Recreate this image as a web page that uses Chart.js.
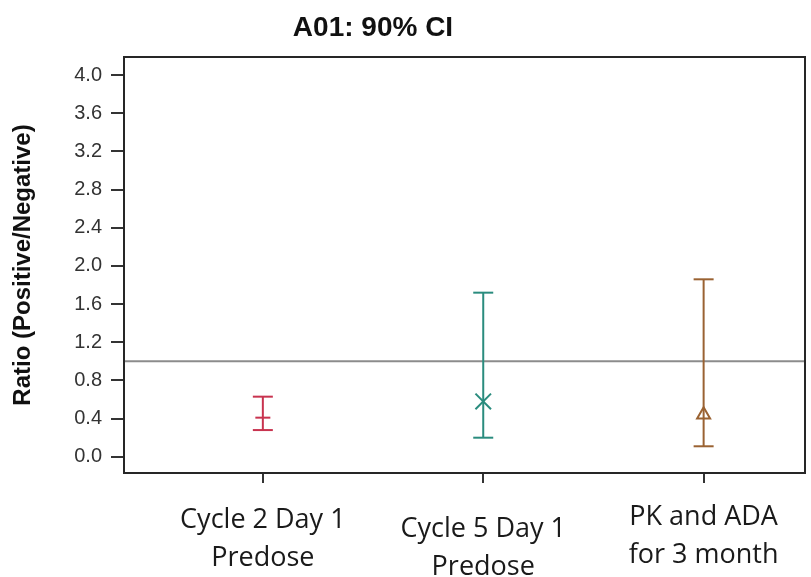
<!DOCTYPE html>
<html>
<head>
<meta charset="utf-8">
<script src="https://cdn.jsdelivr.net/npm/chart.js@4.4.1/dist/chart.umd.min.js"></script>
<style>
html,body{margin:0;padding:0;background:#fff;}
#wrap{width:811px;height:577px;position:relative;}
</style>
</head>
<body>
<div id="wrap"><canvas id="c" width="811" height="577"></canvas></div>
<script>
// ---- data ----
const chartTitle = "A01: 90% CI";
const yAxisTitle = "Ratio (Positive/Negative)";
const categories = [["Cycle 2 Day 1", "Predose"], ["Cycle 5 Day 1", "Predose"], ["PK and ADA", "for 3 month"]];
const categoryPos = [1, 2, 3];
const estimate = [0.41, 0.58, 0.44];
const lower = [0.28, 0.20, 0.11];
const upper = [0.63, 1.72, 1.86];
const yTicks = [0.0, 0.4, 0.8, 1.2, 1.6, 2.0, 2.4, 2.8, 3.2, 3.6, 4.0];
const refValue = 1.0;

const colors = ["#c8334f", "#2a8c7e", "#9a6232"];
const markerStyles = ["line", "crossRot", "triangle"];
const markerRadius = [7.5, 11, 7.5];

const datasets = [];
categoryPos.forEach((x, i) => {
  datasets.push({
    data: [{x: x, y: lower[i]}, {x: x, y: upper[i]}],
    showLine: true,
    borderColor: colors[i],
    borderWidth: 2,
    pointStyle: "line",
    pointRadius: 10,
    pointBorderWidth: 2,
    pointBorderColor: colors[i],
    fill: false
  });
});
datasets.push({
  data: categoryPos.map((x, i) => ({x: x, y: estimate[i]})),
  showLine: false,
  pointStyle: markerStyles,
  pointRadius: markerRadius,
  pointBorderWidth: 2,
  pointBorderColor: colors,
  pointBackgroundColor: "#ffffff"
});

const decor = {
  id: "decor",
  beforeDatasetsDraw(chart) {
    const {ctx, chartArea: a, scales} = chart;
    const y = scales.y.getPixelForValue(refValue);
    ctx.save();
    ctx.strokeStyle = "#8c8c8c";
    ctx.lineWidth = 2;
    ctx.beginPath();
    ctx.moveTo(a.left, y);
    ctx.lineTo(a.right, y);
    ctx.stroke();
    ctx.restore();
  },
  afterDraw(chart) {
    const {ctx, chartArea: a, scales} = chart;
    ctx.save();
    ctx.strokeStyle = "#262626";
    ctx.lineWidth = 2;
    ctx.strokeRect(a.left, a.top, a.right - a.left, a.bottom - a.top);
    // title
    ctx.fillStyle = "#111";
    ctx.font = "bold 28px 'Liberation Sans', Arial, sans-serif";
    ctx.textAlign = "center";
    ctx.textBaseline = "middle";
    ctx.fillText(chartTitle, 373, 28);
    // category labels
    ctx.font = "27px 'Open Sans', sans-serif";
    ctx.fillStyle = "#1a1a1a";
    ctx.textBaseline = "alphabetic";
    const offs = [55, 64, 52];
    categories.forEach((lines, i) => {
      const x = scales.x.getPixelForValue(categoryPos[i]);
      lines.forEach((t, j) => {
        ctx.fillText(t, x, a.bottom + offs[i] + j * 38);
      });
    });
    ctx.restore();
  }
};

new Chart(document.getElementById("c"), {
  type: "scatter",
  data: {datasets},
  plugins: [decor],
  options: {
    responsive: false,
    animation: false,
    events: [],
    layout: {autoPadding: false, padding: {top: 57, right: 6, left: 0, bottom: 0}},
    plugins: {legend: {display: false}, tooltip: {enabled: false}, title: {display: false}},
    scales: {
      x: {
        type: "linear",
        min: 0.37,
        max: 3.46,
        afterBuildTicks: s => { s.ticks = categoryPos.map(v => ({value: v})); },
        afterFit: s => { s.height = 104; },
        ticks: {display: false},
        grid: {drawOnChartArea: false, drawTicks: true, tickLength: 10, color: "#333", lineWidth: 2},
        border: {display: true, color: "#262626", width: 2}
      },
      y: {
        type: "linear",
        min: -0.17,
        max: 4.19,
        afterBuildTicks: s => { s.ticks = yTicks.map(v => ({value: v})); },
        afterFit: s => { s.width = 124; },
        ticks: {
          callback: v => Number(v).toFixed(1),
          font: {family: "'Liberation Sans', Arial, sans-serif", size: 20},
          color: "#333",
          padding: 9
        },
        grid: {drawOnChartArea: false, drawTicks: true, tickLength: 13, color: "#333", lineWidth: 2},
        border: {display: true, color: "#262626", width: 2},
        title: {
          display: true,
          text: yAxisTitle,
          font: {family: "'Liberation Sans', Arial, sans-serif", size: 24, weight: "bold"},
          color: "#111",
          padding: {top: 9, bottom: 0}
        }
      }
    }
  }
});
</script>
</body>
</html>
